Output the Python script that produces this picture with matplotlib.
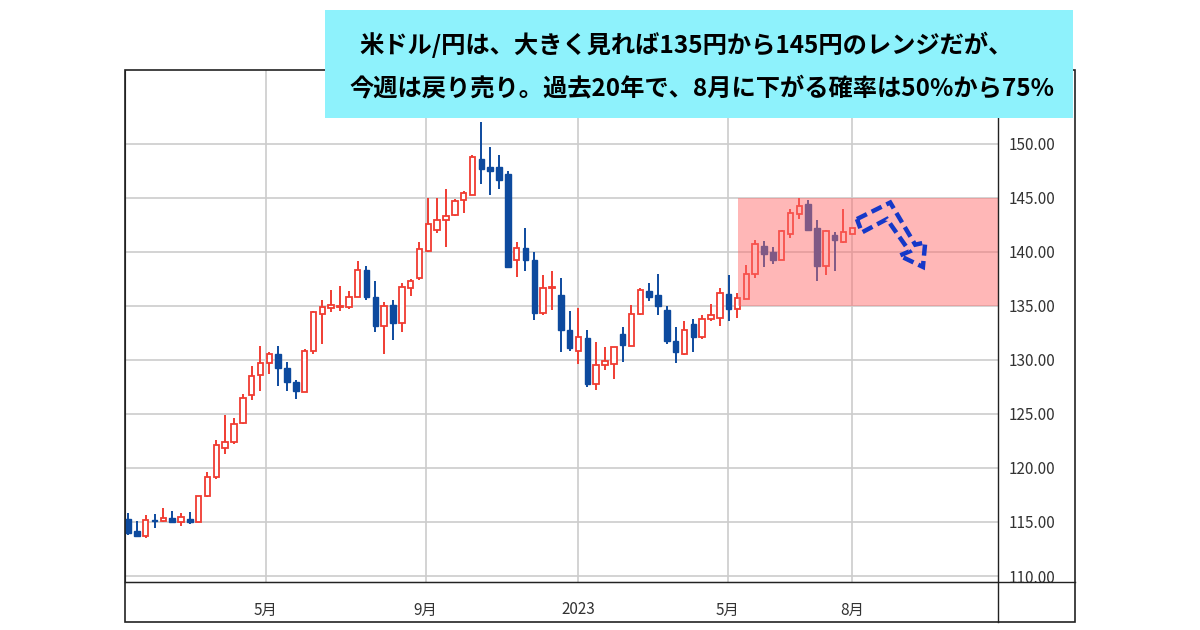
import matplotlib
matplotlib.use("Agg")
import matplotlib.pyplot as plt
from matplotlib.patches import Rectangle, Polygon
import numpy as np

plt.rcParams['font.family'] = ['Noto Sans CJK JP', 'DejaVu Sans']

opens = [115.3,114.2,113.7,115.2,115.1,115.4,115.0,115.3,115.0,117.4,119.2,121.8,122.4,124.2,126.7,128.6,129.7,130.5,129.2,127.9,
         127.0,130.8,134.2,134.8,134.9,134.9,135.8,138.3,135.8,133.1,135.1,133.4,136.6,137.6,140.1,142.0,142.9,143.4,144.8,145.2,
         148.6,147.8,147.8,147.2,139.2,140.3,139.2,134.3,136.6,136.0,132.8,130.8,132.0,127.8,129.5,129.6,132.4,131.3,134.2,136.4,
         136.0,134.6,131.7,130.5,133.3,132.1,133.8,133.9,136.1,134.7,135.6,137.9,140.5,140.0,139.2,141.6,143.5,144.4,142.2,138.7,
         141.5,140.9,141.6]
closes = [114.0,113.7,115.2,115.1,115.4,115.0,115.5,115.0,117.4,119.2,122.1,122.4,124.1,126.5,128.5,129.7,130.5,129.2,127.9,127.1,
          130.8,134.4,134.9,135.1,135.0,135.8,138.3,135.8,133.1,135.0,133.4,136.7,137.3,140.2,142.6,142.9,143.3,144.7,145.4,148.8,
          147.6,147.5,146.6,138.6,140.3,139.2,134.3,136.6,136.7,132.8,131.1,132.1,127.8,129.5,129.9,131.2,131.4,134.2,136.5,135.8,
          135.0,131.7,130.7,132.8,132.1,133.8,134.1,136.2,134.7,135.7,137.9,140.7,139.8,139.2,141.9,143.6,144.2,142.0,138.7,141.9,
          141.1,141.8,142.2]
highs = [115.8,115.1,115.6,115.7,116.3,116.0,115.8,115.9,117.4,119.6,122.6,124.9,124.6,126.8,129.4,131.3,130.7,131.3,129.8,128.1,
         131.0,134.5,135.5,136.5,136.8,136.4,139.1,138.7,137.3,135.3,135.5,137.1,137.5,140.9,145.0,145.0,145.8,144.9,145.6,148.9,
         152.0,149.7,148.9,147.5,140.9,142.2,140.0,137.8,138.2,137.6,134.5,134.8,132.8,131.6,131.2,131.2,133.0,135.1,136.6,137.1,
         137.9,135.0,133.0,133.6,133.8,134.1,135.2,136.6,137.8,136.2,138.8,141.1,141.0,140.4,142.0,143.9,145.0,144.8,142.9,142.0,
         141.8,143.9,142.2]
lows = [113.8,113.6,113.5,114.4,115.0,115.0,114.6,114.8,115.0,117.3,119.0,121.3,122.2,124.1,126.3,127.1,128.7,127.6,127.1,126.4,
        127.0,130.5,131.5,134.4,134.5,134.7,135.8,135.5,132.6,130.5,131.8,132.6,135.9,137.4,140.0,141.7,140.4,143.3,143.6,145.2,
        146.3,145.2,145.8,138.5,137.7,138.2,133.7,134.1,134.6,130.7,130.8,129.6,127.5,127.2,129.1,128.2,129.8,131.3,134.1,135.4,
        134.1,131.5,129.7,130.4,130.7,131.9,133.6,133.1,133.6,133.9,135.6,137.6,138.6,138.9,139.2,141.3,143.0,142.0,137.3,137.8,
        138.2,140.8,141.6]

xtick_pos = [15.6, 33.7, 51.0, 67.9, 82.0]
xtick_labels = ['5月', '9月', '2023', '5月', '8月']
yticks = [110, 115, 120, 125, 130, 135, 140, 145, 150]
range_low, range_high, range_start = 135, 145, 69.1
title_lines = ['米ドル/円は、大きく見れば135円から145円のレンジだが、',
               '今週は戻り売り。過去20年で、8月に下がる確率は50%から75%']

W, H = 1200, 630
fig = plt.figure(figsize=(12, 6.3), dpi=100)
ax = fig.add_axes([125/W, 1-582/H, (998-125)/W, (582-70)/H])

up_c, dn_c = '#f03c32', '#0d4a9e'
n = len(opens)
bw = 0.62
for i in range(n):
    o, c, h, l = opens[i], closes[i], highs[i], lows[i]
    col = up_c if c >= o else dn_c
    ax.plot([i, i], [l, min(o, c)], color=col, lw=1.4, zorder=3, solid_capstyle='butt')
    ax.plot([i, i], [max(o, c), h], color=col, lw=1.4, zorder=3, solid_capstyle='butt')
    if c >= o:
        ax.add_patch(Rectangle((i-bw/2, o), bw, max(c-o, 0.08), facecolor='white', edgecolor=col, lw=1.3, zorder=4))
    else:
        ax.add_patch(Rectangle((i-bw/2, c), bw, o-c, facecolor=col, edgecolor=col, lw=1.0, zorder=4))

ax.add_patch(Rectangle((range_start, range_low), 200, range_high-range_low,
                       facecolor='#ff6a6a', alpha=0.48, edgecolor='none', zorder=5))

ax.set_xlim(-0.34, 98.5)
ax.set_ylim(109.45, 156.8)
ax.set_xticks(xtick_pos)
ax.set_xticklabels(xtick_labels, fontsize=11, color='#333333')
ax.set_yticks(yticks)
ax.set_yticklabels([f'{v:.2f}' for v in yticks], fontsize=11, color='#333333')
ax.yaxis.tick_right()
ax.tick_params(axis='both', length=0)
ax.tick_params(axis='x', pad=14)
ax.tick_params(axis='y', pad=8)
ax.grid(True, color='#cccccc', lw=1.2, zorder=0)
for s in ['top', 'right']:
    ax.spines[s].set_visible(False)
ax.spines['left'].set_color('#222222')
ax.spines['bottom'].set_color('#222222')

pts_px = [(856.7,219.3),(890,202.7),(915,245),(925,242.7),(922.7,267.3),(899.3,256),(909.3,251.7),(886.7,219.3),(861.7,232.7)]
pts = [((px-128)/8.83, 150-(py-143.5)/10.85) for px, py in pts_px]
ax.add_patch(Polygon(pts, closed=True, fill=False, edgecolor='#1538c8', lw=3.2, ls=(0, (2.5, 1.2)), zorder=6, clip_on=False))

fig.add_artist(Rectangle((125/W, 1-622/H), (1075-125)/W, (622-70)/H, transform=fig.transFigure,
                         fill=False, edgecolor='#222222', lw=1.2))
fig.add_artist(plt.Line2D([998/W, 998/W], [1-622/H, 1-70/H], transform=fig.transFigure, color='#222222', lw=1.0))
fig.add_artist(plt.Line2D([125/W, 1075/W], [1-582/H, 1-582/H], transform=fig.transFigure, color='#222222', lw=1.0))

fig.add_artist(Rectangle((325/W, 1-118/H), (1073-325)/W, (118-10)/H, transform=fig.transFigure,
                         facecolor='#8ef2fc', edgecolor='none', zorder=10))
fig.text(686/W, 1-45/H, title_lines[0], ha='center', va='center', fontsize=17.5, fontweight='bold', zorder=11)
fig.text(702/W, 1-88/H, title_lines[1], ha='center', va='center', fontsize=17.5, fontweight='bold', zorder=11)

fig.savefig('out.png', dpi=100, facecolor='white')
